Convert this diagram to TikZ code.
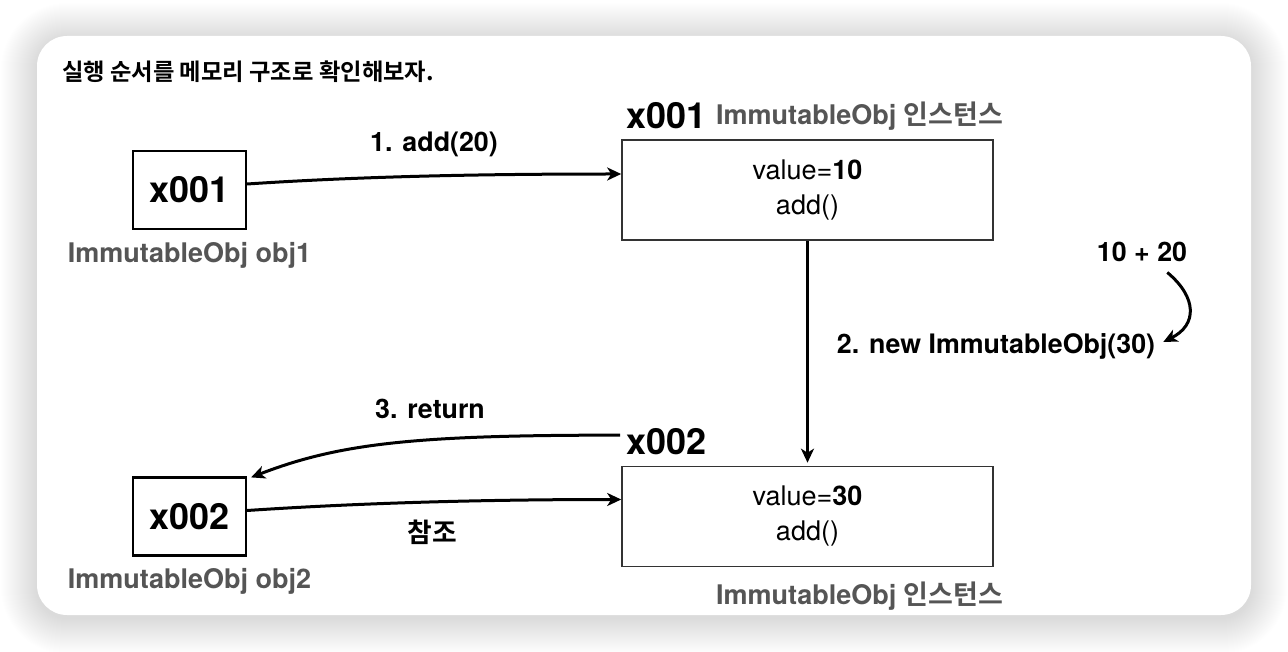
\documentclass[tikz,border=0pt]{standalone}
\usepackage{fontspec}
\setmainfont{TeX Gyre Heros}
\newfontfamily\kr{Noto Sans CJK KR}[BoldFont={Noto Sans CJK KR Bold}]
\usetikzlibrary{arrows.meta}
\definecolor{lbl}{HTML}{555555}
\definecolor{bord}{HTML}{333333}
\tikzset{
 objbox/.style={draw=black, line width=2.2pt, minimum width=113pt, minimum height=78pt, inner sep=0pt, font=\fontsize{36}{40}\selectfont\bfseries},
 inst/.style={draw=bord, line width=1.6pt, minimum width=371pt, minimum height=100pt, inner sep=0pt, align=center, font=\fontsize{27}{35}\selectfont},
 lab/.style={font=\fontsize{26.8}{30}\selectfont\bfseries, inner sep=0pt},
 graylab/.style={inner sep=0pt, text=lbl, font=\fontsize{27}{30}\selectfont\bfseries},
 addr/.style={font=\fontsize{36}{40}\selectfont\bfseries, inner sep=0pt},
 arr/.style={line width=3pt, -{Stealth[length=14pt, width=13pt, inset=4pt]}},
}
\begin{document}
\begin{tikzpicture}[x=1pt,y=-1pt]
\useasboundingbox (0,0) rectangle (1288,652);
\fill[white] (0,0) rectangle (1288,652);
\foreach \i in {1,...,36}{
  \fill[black, opacity=0.0036, rounded corners={30pt+\i pt}] (37-\i,36-\i+3) rectangle (1251+\i,615+\i+3);
}
\fill[white, rounded corners=30pt] (37,36) rectangle (1251,615);

\node[anchor=base west, inner sep=0pt, font=\kr\bfseries\fontsize{23.3}{25}\selectfont] (title) at (62,81) {실행 순서를 메모리 구조로 확인해보자.};

\node[objbox] (o1) at (189.5,190) {x001};
\node[graylab, anchor=base] (o1l) at (189.5,263) {ImmutableObj obj1};
\node[objbox] (o2) at (189.5,516.5) {x002};
\node[graylab, anchor=base] (o2l) at (189.5,588) {ImmutableObj obj2};

\node[inst] (i1) at (807.5,190) {value=\textbf{10}\\add()};
\node[inst] (i2) at (807.5,516.5) {value=\textbf{30}\\add()};

\node[addr, anchor=base west] (a1) at (626,129) {x001};
\node[graylab, anchor=base west] (t1) at (716,125) {ImmutableObj {\kr 인스턴스}};
\node[addr, anchor=base west] (a2) at (626,454) {x002};
\node[graylab, anchor=base west] (t2) at (716,604) {ImmutableObj {\kr 인스턴스}};

\node[lab, anchor=base] (l1) at (434,152) {1. add(20)};
\node[lab, anchor=base] (l3) at (430,418) {3. return};
\node[lab, anchor=base] (lr) at (432,542) {\kr 참조};
\node[lab, anchor=base] (p) at (1142,262) {10 + 20};
\node[lab, anchor=base] (n) at (996,353) {2. new ImmutableObj(30)};

\draw[arr] ([yshift=6pt]o1.east) .. controls +(120,-8) and +(-130,0) .. ([yshift=16pt]i1.west);
\draw[arr, shorten >=3pt] (i1.south) -- (i2.north);
\draw[arr] ([xshift=-6pt,yshift=6pt]a2.west) .. controls +(-200,0) and +(90,-35) .. ([xshift=4pt,yshift=-1pt]o2.north east);
\draw[arr] ([yshift=6pt]o2.east) .. controls +(120,-8) and +(-130,0) .. ([yshift=17pt]i2.west);
\draw[arr] ([xshift=-20pt,yshift=-10pt]p.south east) .. controls +(30,25) and +(34,-17) .. ([xshift=8pt,yshift=4pt]n.east);
\end{tikzpicture}
\end{document}
